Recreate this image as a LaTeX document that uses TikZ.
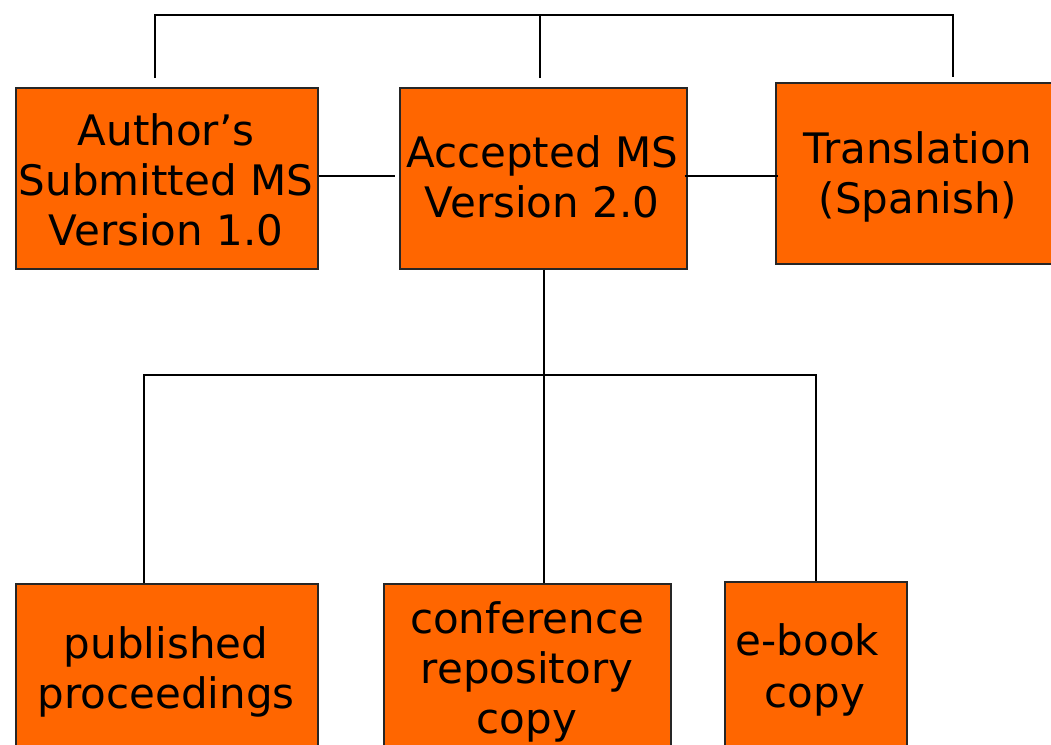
\documentclass[tikz,border=0pt]{standalone}
\usepackage{fontspec}
\setmainfont{DejaVu Sans}
\definecolor{boxorange}{RGB}{255,102,0}
\begin{document}
\begin{tikzpicture}[x=1pt,y=-1pt,
  box/.style={draw=black!85, line width=1.6pt, fill=boxorange, inner sep=0pt,
    anchor=north west},
  lbl/.style={anchor=north, inner sep=0pt, align=center,
    font=\fontsize{42}{50}\selectfont},
  link/.style={line width=1.8pt, black}]
  \useasboundingbox (0,0) rectangle (1051,744);
  \clip (0,0) rectangle (1051,744);

  % version boxes, top row
  \node[box, minimum width=302pt, minimum height=181pt] (a) at (15,87) {};
  \node[box, minimum width=287pt, minimum height=181pt] (b) at (399,87) {};
  \node[box, minimum width=287pt, minimum height=181pt] (c) at (775,82) {};
  % copies, bottom row
  \node[box, minimum width=302pt, minimum height=181pt] (d) at (15,583) {};
  \node[box, minimum width=287pt, minimum height=181pt] (e) at (383,583) {};
  \node[box, minimum width=182pt, minimum height=181pt] (f) at (724,581) {};

  % box texts
  \node[lbl] (at) at (166,113) {\rule{0pt}{32pt}Author’s\\Submitted MS\\Version 1.0};
  \node[lbl] (bt) at (542,135) {\rule{0pt}{32pt}Accepted MS\\Version 2.0};
  \node[lbl] (ct) at (918,131) {\rule{0pt}{32pt}Translation\\(Spanish)};
  \node[lbl] (dt) at (166,626) {\rule{0pt}{32pt}published\\proceedings};
  \node[lbl] (et) at (527,601) {\rule{0pt}{32pt}conference\\repository\hspace*{20pt}\\copy};
  \node[lbl, font=\fontsize{42}{52}\selectfont] (ft) at (815,623) {\rule{0pt}{32pt}e-book\hspace*{15pt}\\copy};

  % top bus joining the three versions
  \coordinate (busL) at (155,15);
  \coordinate (busR) at (953,15);
  \coordinate (ta) at ([yshift=9pt]a.north -| busL);
  \coordinate (tc) at ([yshift=5pt]c.north -| busR);
  \coordinate (tb) at ([xshift=-3.5pt,yshift=9pt]b.north);
  \draw[link] (ta) -- (busL) -- (busR) -- (tc);
  \draw[link] (tb) -- (tb |- busL);

  % side links between the versions
  \draw[link] ([yshift=2.5pt]a.east) -- ([xshift=-4pt,yshift=2.5pt]b.west);
  \draw[link] ([xshift=-3pt,yshift=2.5pt]b.east) -- ([xshift=3pt,yshift=-2.5pt]c.west);

  % tree from the accepted version to its copies
  \coordinate (hub) at ([xshift=0.5pt]b.south |- 0,375);
  \draw[link] ([xshift=0.5pt]b.south) -- (hub);
  \draw[link] (hub) -| ([xshift=-23pt]d.north);
  \draw[link] (hub) -- ([xshift=16.5pt]e.north);
  \draw[link] (hub) -| (f.north);
\end{tikzpicture}
\end{document}
